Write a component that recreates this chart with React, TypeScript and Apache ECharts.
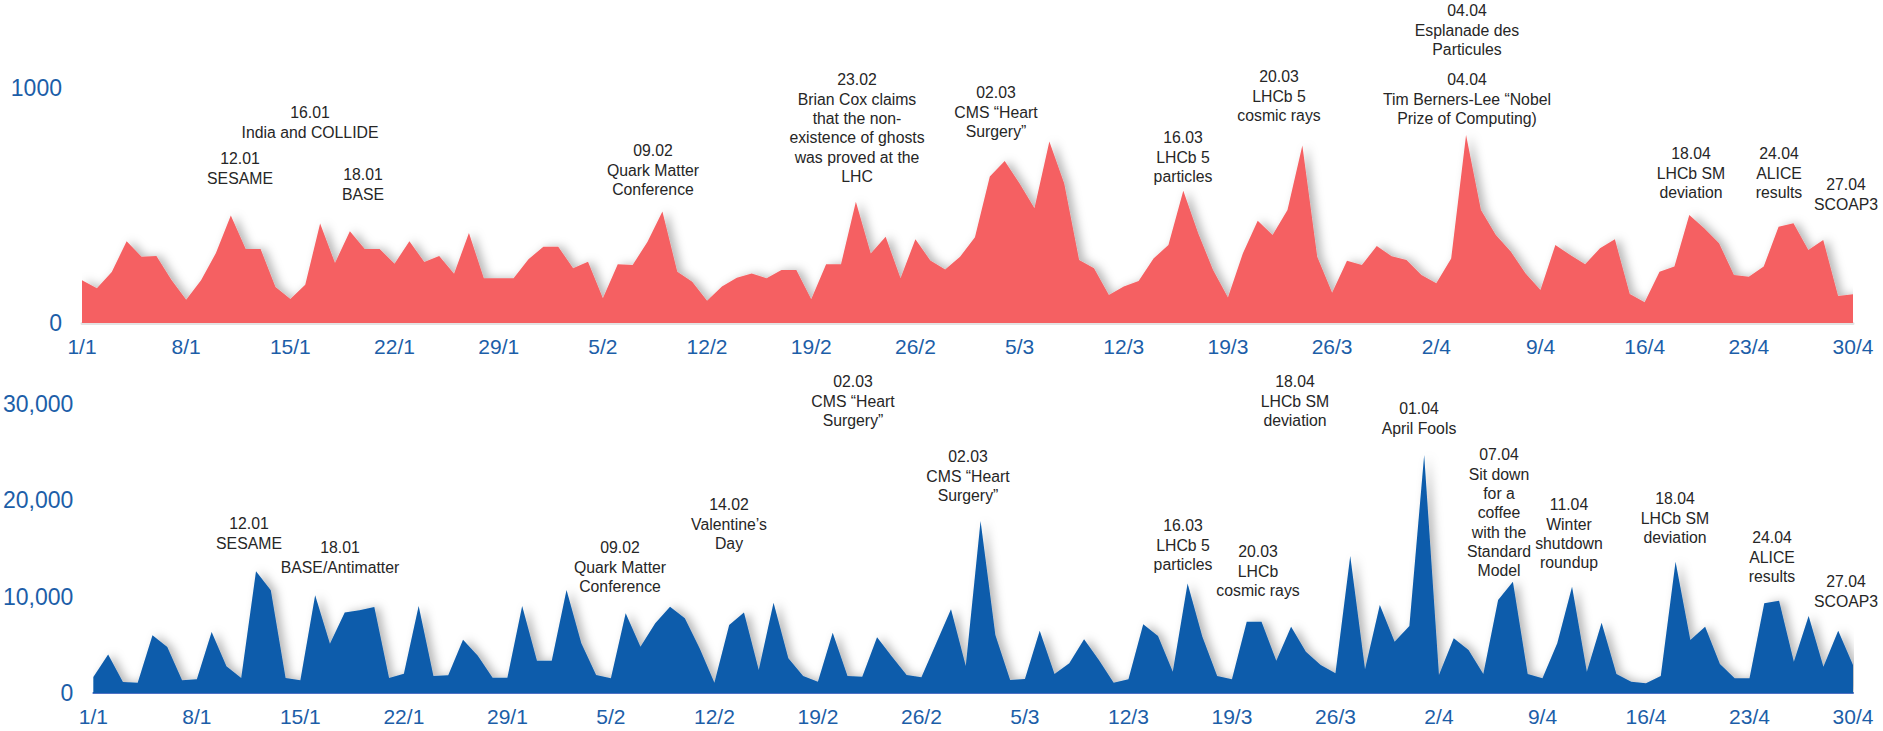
import React, { useEffect, useRef } from "react";
import * as echarts from "echarts";

// ---------- DATA ----------
const MONTH_DAYS = [31, 28, 31, 30];
const dates: string[] = [];
MONTH_DAYS.forEach((n, m) => {
  for (let d = 1; d <= n; d++) dates.push(`${d}/${m + 1}`);
});

const topValues = [
  182, 148, 217, 348, 282, 285, 184, 99, 182, 298,
  457, 315, 315, 153, 102, 163, 423, 255, 390, 315,
  315, 252, 348, 260, 285, 210, 383, 190, 190, 190,
  271, 325, 325, 233, 261, 105, 250, 247, 346, 474,
  218, 176, 95, 155, 193, 211, 190, 226, 226, 101,
  250, 250, 516, 296, 367, 190, 356, 266, 228, 282,
  365, 623, 689, 594, 488, 772, 594, 268, 233, 119,
  155, 179, 275, 332, 563, 382, 226, 108, 296, 435,
  374, 481, 755, 282, 129, 265, 247, 328, 284, 268,
  204, 169, 275, 800, 481, 374, 304, 211, 140, 332,
  289, 250, 318, 356, 123, 88, 218, 240, 460, 403,
  339, 204, 197, 240, 410, 424, 311, 353, 115, 122,
];

const bottomValues = [
  1660, 4000, 1140, 1070, 5980, 4770, 1310, 1420, 6320, 2760,
  1550, 12610, 10640, 1550, 1310, 10120, 5110, 8330, 8570, 8910,
  1550, 2000, 9020, 1760, 1830, 5530, 3850, 1590, 1590, 9020,
  3350, 3350, 10670, 5150, 1870, 1520, 8260, 4800, 7220, 8950,
  7740, 4630, 1070, 7050, 8330, 2380, 9360, 3590, 1760, 1170,
  6250, 1760, 1690, 5770, 3770, 1870, 1620, 5150, 8670, 2800,
  17820, 6010, 1350, 1450, 6460, 1970, 3070, 5560, 3420, 1070,
  1420, 7120, 5910, 2210, 11360, 5840, 1760, 1420, 7390, 7390,
  3350, 6870, 4280, 2900, 2040, 14200, 2450, 9120, 5320, 6940,
  24660, 1870, 5670, 4460, 1970, 9640, 11540, 1970, 1520, 5150,
  11020, 2210, 7290, 1970, 1170, 1000, 1760, 13610, 5490, 6870,
  3010, 1520, 1520, 9290, 9570, 3250, 7980, 2730, 6460, 2900,
];

const topTicks = [0, 1000];
const bottomTicks = [0, 10000, 20000, 30000];

const topNotes = [
  "16.01\nIndia and COLLIDE",
  "12.01\nSESAME",
  "18.01\nBASE",
  "09.02\nQuark Matter\nConference",
  "23.02\nBrian Cox claims\nthat the non-\nexistence of ghosts\nwas proved at the\nLHC",
  "02.03\nCMS \u201cHeart\nSurgery\u201d",
  "16.03\nLHCb 5\nparticles",
  "20.03\nLHCb 5\ncosmic rays",
  "04.04\nEsplanade des\nParticules",
  "04.04\nTim Berners-Lee \u201cNobel\nPrize of Computing)",
  "18.04\nLHCb SM\ndeviation",
  "24.04\nALICE\nresults",
  "27.04\nSCOAP3",
];

const bottomNotes = [
  "12.01\nSESAME",
  "18.01\nBASE/Antimatter",
  "09.02\nQuark Matter\nConference",
  "14.02\nValentine\u2019s\nDay",
  "02.03\nCMS \u201cHeart\nSurgery\u201d",
  "02.03\nCMS \u201cHeart\nSurgery\u201d",
  "16.03\nLHCb 5\nparticles",
  "20.03\nLHCb\ncosmic rays",
  "18.04\nLHCb SM\ndeviation",
  "01.04\nApril Fools",
  "07.04\nSit down\nfor a\ncoffee\nwith the\nStandard\nModel",
  "11.04\nWinter\nshutdown\nroundup",
  "18.04\nLHCb SM\ndeviation",
  "24.04\nALICE\nresults",
  "27.04\nSCOAP3",
];

// ---------- LAYOUT (annotation centre x, first-line centre y, in pixels) ----------
const topNotePos: [number, number][] = [
  [310, 113], [240, 159], [363, 175], [653, 151], [857, 80], [996, 93],
  [1183, 138], [1279, 77], [1467, 11], [1467, 80], [1691, 154], [1779, 154], [1846, 185],
];
const bottomNotePos: [number, number][] = [
  [249, 524], [340, 548], [620, 548], [729, 505], [853, 382], [968, 457],
  [1183, 526], [1258, 552], [1295, 382], [1419, 409], [1499, 455], [1569, 505],
  [1675, 499], [1772, 538], [1846, 582],
];

const FONT = "'Liberation Sans', Arial, Helvetica, sans-serif";
const LINE_H = 19.3;
const RED = "#F56062";
const BLUE = "#0A5BAB";
const LABEL_BLUE = "#1C5EA8";
const NOTE_COLOR = "#262626";

function noteGraphics(notes: string[], pos: [number, number][]) {
  return notes.map((t, i) => ({
    type: "text",
    x: pos[i][0],
    y: pos[i][1] - LINE_H / 2,
    silent: true,
    style: {
      text: t,
      fill: NOTE_COLOR,
      font: `15.8px ${FONT}`,
      align: "center",
      verticalAlign: "top",
      lineHeight: LINE_H,
    },
  }));
}

export default function App() {
  const ref = useRef<HTMLDivElement>(null);

  useEffect(() => {
    if (!ref.current) return;
    const chart = echarts.init(ref.current, undefined, { renderer: "svg" });

    const xAxisBase = (gridIndex: number, lineColor: string, lineWidth: number) => ({
      type: "category",
      gridIndex,
      data: dates,
      boundaryGap: false,
      axisTick: { show: false },
      axisLine: { show: true, lineStyle: { color: lineColor, width: lineWidth } },
      axisLabel: {
        interval: 6,
        color: LABEL_BLUE,
        fontSize: 21,
        fontFamily: FONT,
        margin: 13,
      },
      splitLine: { show: false },
    });

    const yAxisBase = (gridIndex: number, ticks: number[], fmt: (v: number) => string) => ({
      type: "value",
      gridIndex,
      min: ticks[0],
      max: ticks[ticks.length - 1],
      interval: ticks[1] - ticks[0],
      axisLine: { show: false },
      axisTick: { show: false },
      splitLine: { show: false },
      axisLabel: {
        color: LABEL_BLUE,
        fontSize: 23,
        fontFamily: FONT,
        margin: 20,
        formatter: (v: number) => fmt(v),
      },
    });

    const areaSeries = (values: number[], color: string, idx: number) => ({
      type: "line",
      xAxisIndex: idx,
      yAxisIndex: idx,
      data: values,
      symbol: "none",
      lineStyle: { width: 0, color },
      itemStyle: { color },
      areaStyle: {
        color,
        opacity: 1,
        shadowColor: "rgba(0,0,0,0.28)",
        shadowBlur: 10,
        shadowOffsetX: 5,
        shadowOffsetY: 0,
      },
      silent: true,
    });

    chart.setOption({
      animation: false,
      backgroundColor: "#ffffff",
      grid: [
        { left: 82, right: 30, top: 88, height: 235 },
        { left: 82, right: 30, top: 403.5, height: 289.5 },
      ],
      xAxis: [xAxisBase(0, "#e3e3e3", 3), xAxisBase(1, "#4f72c4", 2)],
      yAxis: [
        yAxisBase(0, topTicks, (v) => String(v)),
        yAxisBase(1, bottomTicks, (v) => v.toLocaleString("en-US")),
      ],
      series: [areaSeries(topValues, RED, 0), areaSeries(bottomValues, BLUE, 1)],
      graphic: [
        ...noteGraphics(topNotes, topNotePos),
        ...noteGraphics(bottomNotes, bottomNotePos),
      ],
    });

    return () => chart.dispose();
  }, []);

  return (
    <div
      ref={ref}
      style={{ position: "fixed", left: 0, top: 0, width: 1883, height: 731, background: "#fff" }}
    />
  );
}
